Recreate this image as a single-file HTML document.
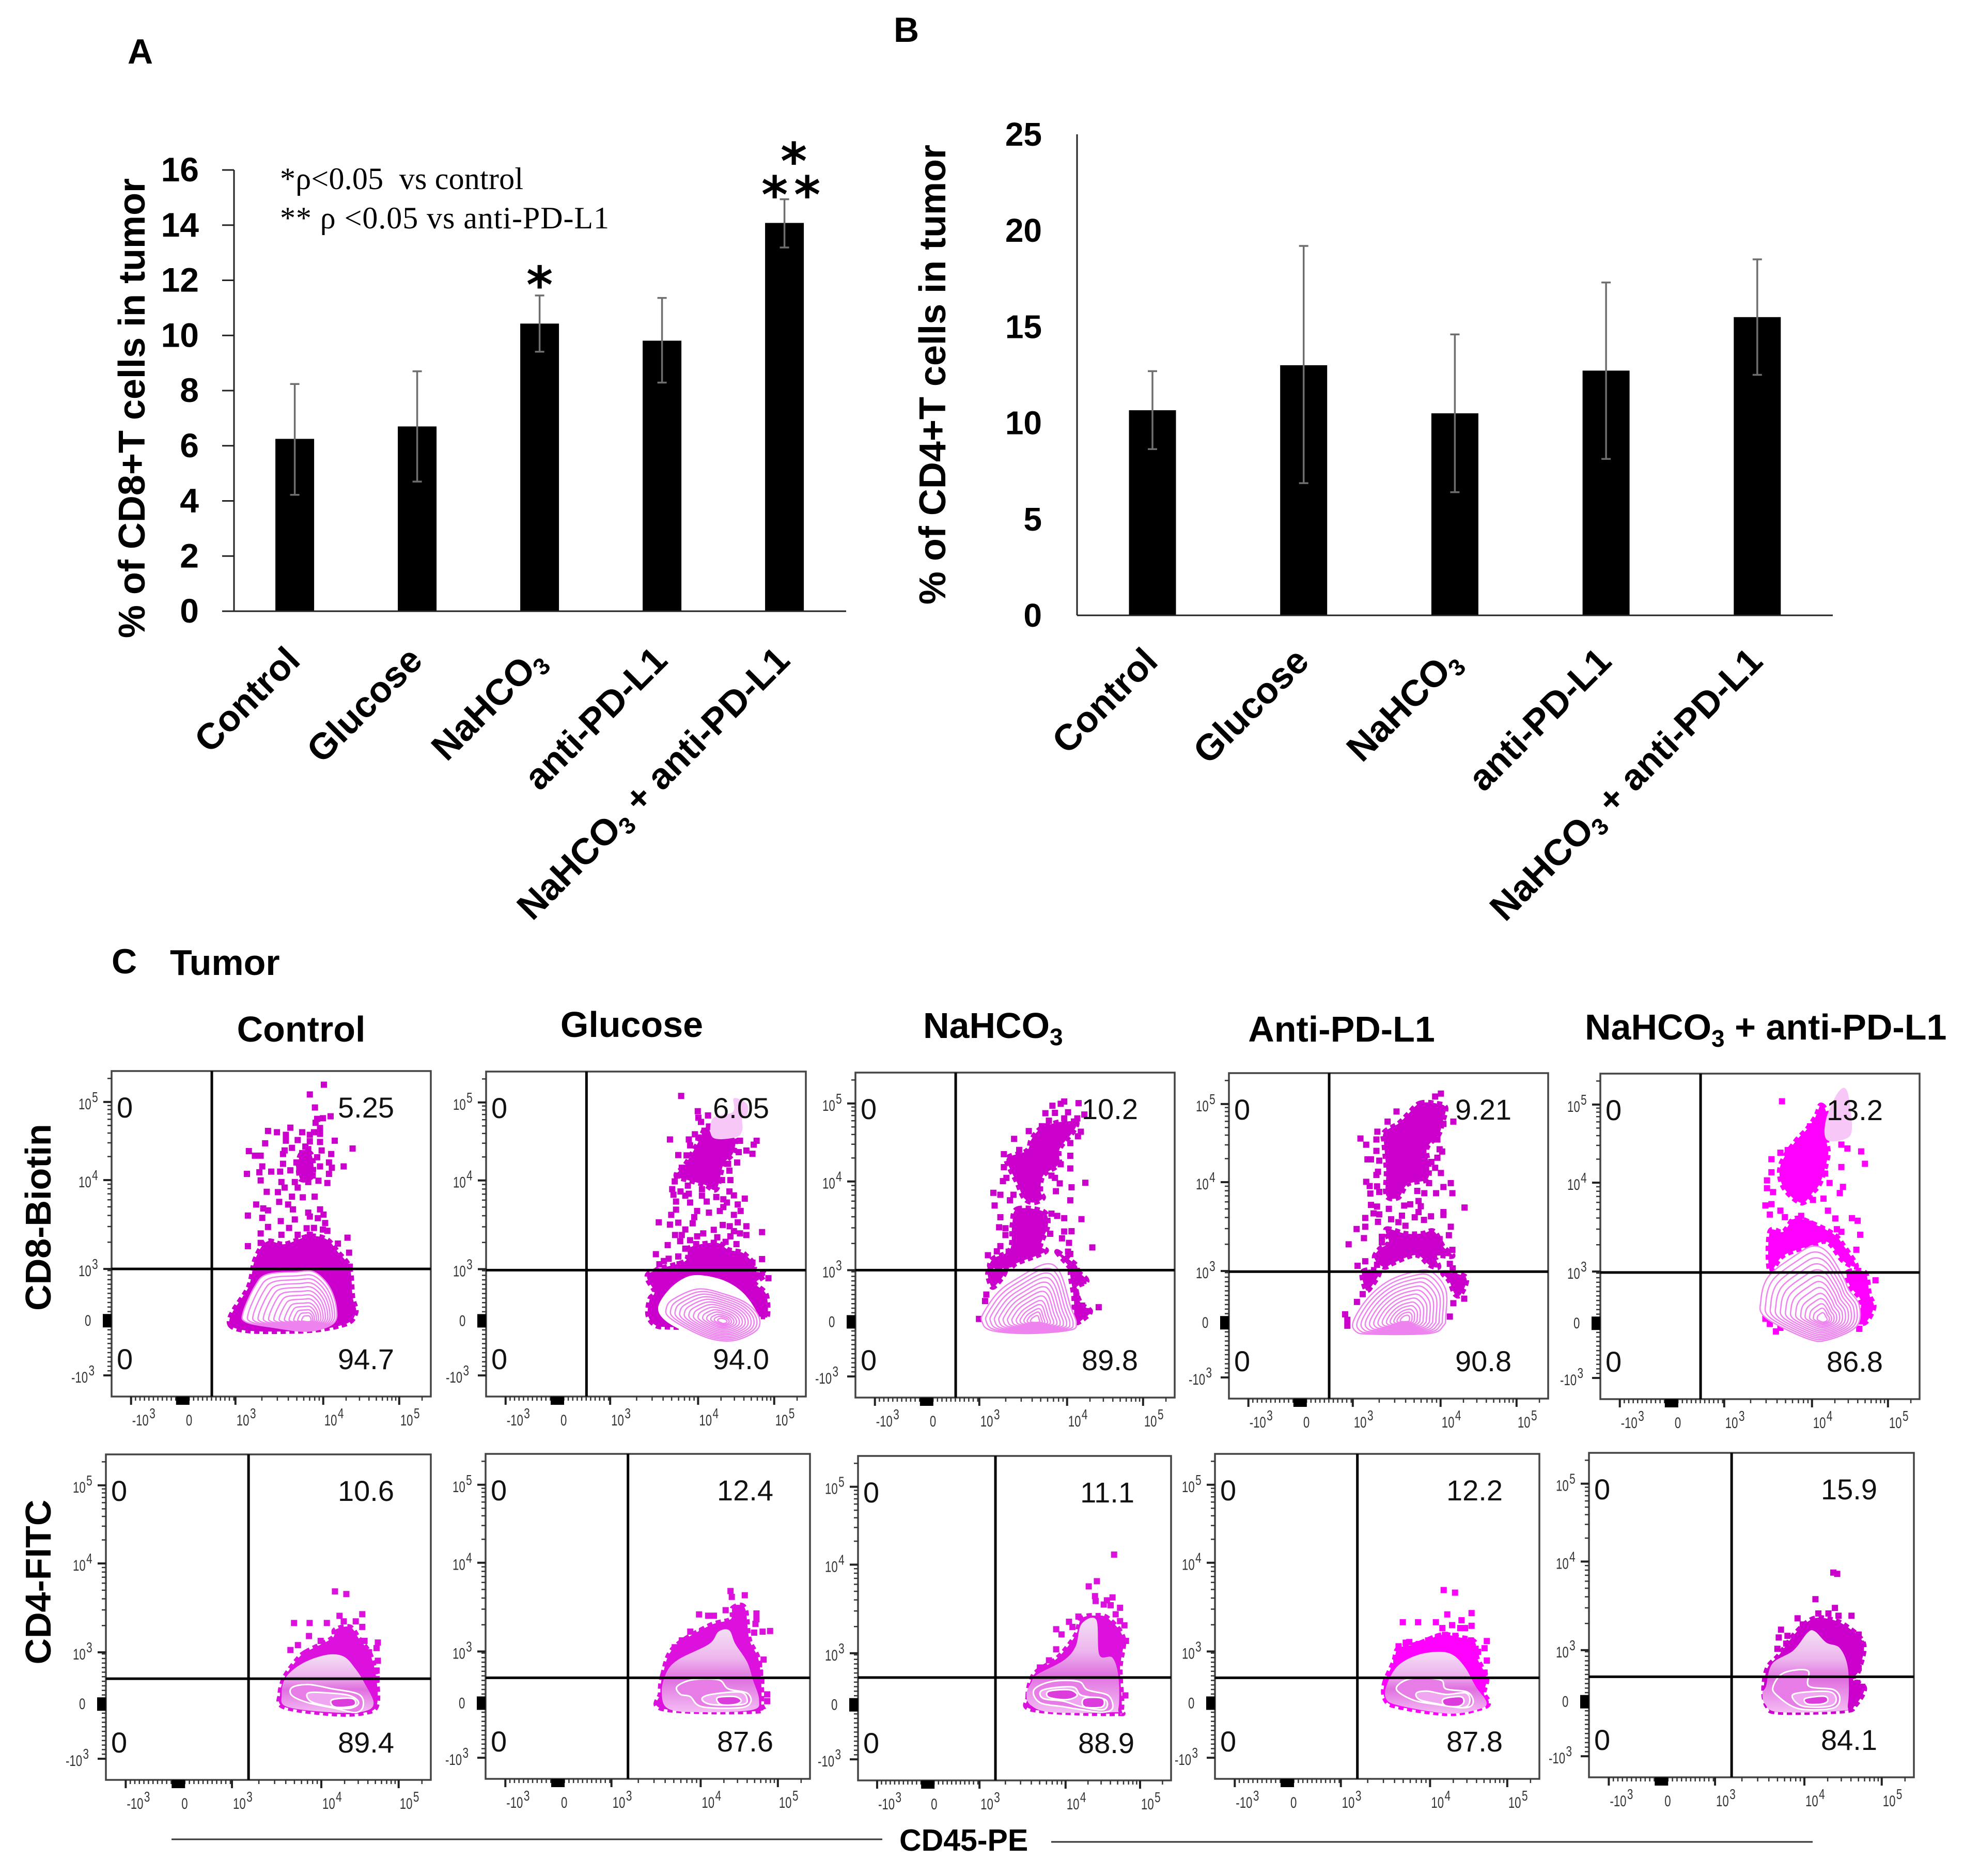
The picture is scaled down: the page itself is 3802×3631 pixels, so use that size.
<!DOCTYPE html>
<html lang="en">
<head>
<meta charset="utf-8">
<title>CD8+ and CD4+ T cells in tumor</title>
<style>
html,body{margin:0;padding:0;background:#fff;}
svg{display:block;}
text{font-family:"Liberation Sans",sans-serif;fill:#000;white-space:pre;}
.bold{font-weight:bold;}
</style>
</head>
<body>
<svg id="figure" xmlns="http://www.w3.org/2000/svg" width="3802" height="3631" viewBox="0 0 3802 3631">
  <defs>
    <linearGradient id="bodyFill" x1="0" y1="0" x2="0" y2="1">
      <stop offset="0" stop-color="#f3dff3"/>
      <stop offset="0.35" stop-color="#eeb6ee"/>
      <stop offset="0.6" stop-color="#e070e0"/>
      <stop offset="1" stop-color="#f4bcf4"/>
    </linearGradient>
  </defs>
  <rect x="0" y="0" width="3802" height="3631" fill="#fff"/>

  <text class="bold" x="247" y="123" font-size="68">A</text>
  <text class="bold" x="1730" y="81" font-size="68">B</text>
  <text class="bold" x="216" y="1884" font-size="68">C</text>
  <text class="bold" x="329" y="1887" font-size="70">Tumor</text>

  <text x="542" y="366" font-size="60" textLength="471" style="font-family:'Liberation Serif',serif">*ρ&lt;0.05  vs control</text>
  <text x="542" y="442" font-size="60" textLength="637" style="font-family:'Liberation Serif',serif">** ρ &lt;0.05 vs anti-PD-L1</text>

  <text class="bold" font-size="72" text-anchor="middle" transform="translate(280,790) rotate(-90)">% of CD8+T cells in tumor</text>
  <text class="bold" font-size="72" text-anchor="middle" transform="translate(1830,725) rotate(-90)">% of CD4+T cells in tumor</text>

  <g>
    <text class="bold" font-size="70" text-anchor="middle" x="583" y="2016">Control</text>
    <text class="bold" font-size="70" text-anchor="middle" x="1223" y="2007">Glucose</text>
    <text class="bold" font-size="70" x="1787" y="2009">NaHCO<tspan font-size="46" dy="14">3</tspan></text>
    <text class="bold" font-size="70" text-anchor="middle" x="2597" y="2016">Anti-PD-L1</text>
    <text class="bold" font-size="70" x="3068" y="2012">NaHCO<tspan font-size="46" dy="14">3</tspan><tspan dy="-14"> + anti-PD-L1</tspan></text>
  </g>

  <text class="bold" font-size="70" text-anchor="middle" transform="translate(98,2356) rotate(-90)">CD8-Biotin</text>
  <text class="bold" font-size="70" text-anchor="middle" transform="translate(98,3062) rotate(-90)">CD4-FITC</text>

  <line x1="332" y1="3560" x2="1708" y2="3560" stroke="#333" stroke-width="3"/>
  <text class="bold" font-size="59" x="1741" y="3582">CD45-PE</text>
  <line x1="2035" y1="3565" x2="3509" y2="3565" stroke="#333" stroke-width="3"/>

  <g id="charts"></g>
  <g id="flows"></g>
</svg>

<script>
/* ---------- bar chart data ---------- */
const categories = ["Control", "Glucose", "NaHCO|3", "anti-PD-L1", "NaHCO|3 + anti-PD-L1"];
const cd8Values = [6.25, 6.7, 10.43, 9.81, 14.08];
const cd8ErrLow = [4.22, 4.7, 9.41, 8.29, 13.19];
const cd8ErrHigh = [8.24, 8.7, 11.45, 11.36, 14.94];
const cd8Ticks = [0, 2, 4, 6, 8, 10, 12, 14, 16];
const cd4Values = [10.66, 13.0, 10.5, 12.72, 15.5];
const cd4ErrLow = [8.64, 6.87, 6.4, 8.13, 12.5];
const cd4ErrHigh = [12.69, 19.2, 14.6, 17.3, 18.5];
const cd4Ticks = [0, 5, 10, 15, 20, 25];

/* ---------- flow plot axes, display channels 0-1000 ---------- */
const flowTickChannelsX = [61, 223, 388, 663, 901];
const flowTickChannelsY = [65, 233, 392, 665, 905];
const contourLevels = [1, 0.92, 0.84, 0.76, 0.68, 0.6, 0.52, 0.44, 0.36, 0.29, 0.22, 0.16, 0.1];

/* ---------- flow plot values: [CD45 channel, marker channel] ---------- */
const cd8ControlDots = [[665,958],[621,928],[637,888],[686,861],[662,855],[644,853],[639,841],[653,825],[634,812],[653,807],[560,826],[490,816],[518,812],[546,804],[597,812],[621,804],[546,786],[583,788],[621,784],[653,782],[699,786],[755,762],[481,778],[565,764],[607,768],[542,756],[616,760],[658,756],[430,754],[597,748],[537,745],[449,740],[467,740],[688,745],[644,735],[597,735],[616,719],[472,707],[579,719],[537,715],[681,719],[727,707],[463,689],[424,684],[500,691],[528,691],[560,695],[588,699],[611,695],[653,707],[690,703],[681,684],[630,679],[467,664],[532,659],[574,659],[616,659],[648,663],[676,656],[542,642],[583,642],[486,629],[521,628],[565,614],[599,612],[636,614],[525,598],[553,590],[453,590],[616,565],[475,578],[490,572],[568,575],[653,575],[427,556],[472,549],[621,553],[664,559],[646,548],[574,544],[530,539],[669,533],[490,521],[556,518],[634,518],[611,517],[662,513],[532,497],[467,501],[583,497],[621,497],[676,509],[739,488],[709,470],[744,442],[746,399],[427,462],[467,472]];
const cd8ControlDense = [[[374,217],[430,339],[449,420],[486,476],[542,468],[616,492],[672,484],[709,444],[746,395],[755,306],[765,258],[727,221],[579,201]],[[590,740],[625,745],[630,680],[590,670]]];
const cd8ControlContour = [[412,258],[449,339],[486,375],[579,383],[634,383],[681,339],[704,274],[695,225],[616,201],[504,213],[421,229]];
const cd8ControlPeak = [616, 233];

const cd8GlucoseDots = [[610,925],[662,878],[664,858],[672,845],[694,865],[697,831],[575,791],[634,791],[653,807],[664,797],[683,818],[794,787],[846,787],[837,775],[790,752],[814,757],[833,747],[601,743],[627,742],[638,773],[785,720],[757,716],[612,704],[597,680],[761,695],[590,662],[764,666],[738,666],[582,638],[586,621],[608,631],[631,649],[634,624],[623,618],[675,638],[761,631],[775,619],[809,609],[720,614],[742,607],[594,600],[638,597],[675,618],[690,600],[753,597],[787,591],[594,575],[660,571],[697,566],[731,571],[742,583],[796,571],[775,559],[579,559],[651,552],[540,536],[575,529],[601,535],[646,533],[787,536],[740,528],[762,524],[814,524],[712,513],[623,514],[612,497],[591,497],[679,502],[660,493],[775,509],[794,502],[814,497],[863,506],[764,493],[638,481],[607,478],[568,466],[723,490],[712,473],[749,476],[783,469],[657,469],[531,438],[623,455],[601,431],[571,424],[556,417],[542,407],[605,407],[863,423],[833,412],[883,364]];
const cd8GlucoseDense = [[[690,831],[712,800],[775,797],[772,749],[742,714],[720,638],[683,652],[631,666],[594,680],[623,714],[660,776]],[[538,386],[623,417],[638,459],[720,473],[757,452],[809,438],[820,386]],[[527,386],[853,383],[842,348],[876,314],[879,245],[853,245],[675,217],[564,214],[527,221],[506,252],[512,300],[527,321]]];
const cd8GlucoseFaint = [[709,797],[779,797],[801,818],[801,856],[816,866],[816,900],[775,918],[772,876],[709,856]];
const cd8GlucoseVoid = [[538,273],[571,328],[623,366],[675,373],[749,355],[809,314],[853,245],[846,204],[779,173],[709,173],[638,193],[564,231]];
const cd8GlucoseContour = [[564,273],[586,300],[664,331],[749,314],[816,286],[853,245],[846,204],[779,173],[709,176],[638,204],[571,245]];
const cd8GlucosePeak = [742, 231];

const cd8BicarbDots = [[654,911],[617,898],[699,906],[643,904],[595,875],[625,876],[666,878],[695,859],[717,871],[654,859],[606,852],[584,835],[543,820],[497,796],[697,804],[673,783],[706,818],[513,762],[465,749],[673,744],[465,709],[673,705],[643,718],[720,661],[462,666],[473,676],[677,647],[640,659],[614,683],[625,676],[432,630],[454,624],[495,624],[484,607],[628,635],[673,607],[436,591],[454,555],[708,549],[450,524],[470,521],[470,500],[614,566],[632,559],[654,552],[677,512],[654,511],[610,504],[647,490],[669,476],[454,466],[443,450],[415,438],[480,449],[742,462],[673,442],[666,449],[762,278],[387,242],[406,297],[410,317],[714,359],[692,314],[710,283],[729,266]];
const cd8BicarbDense = [[[692,849],[684,821],[640,766],[636,718],[588,683],[580,635],[588,614],[558,600],[528,614],[506,662],[484,704],[476,738],[536,759],[551,794],[580,828],[625,845],[654,849]],[[506,580],[588,573],[603,531],[580,469],[595,449],[506,414],[484,400],[424,400],[432,428],[484,455],[491,531]],[[632,449],[692,407],[684,390],[654,421]],[[417,390],[469,390],[439,345],[424,345]],[[673,386],[696,386],[725,359],[692,338],[706,290],[736,266],[714,242],[688,235],[684,311]]];
const cd8BicarbContour = [[402,262],[447,324],[506,366],[595,411],[640,386],[673,283],[692,228],[669,207],[536,197],[424,207],[396,235]];
const cd8BicarbPeak = [565, 235];

const cd8AntiDots = [[664,937],[646,928],[525,882],[497,851],[703,851],[672,844],[465,820],[412,799],[462,796],[430,780],[462,761],[653,796],[660,766],[668,759],[653,740],[634,727],[646,709],[664,693],[434,735],[445,735],[471,731],[467,697],[462,687],[430,666],[441,653],[464,652],[471,635],[443,630],[695,662],[672,650],[700,631],[649,631],[627,662],[590,638],[612,631],[501,638],[516,624],[738,587],[672,573],[672,564],[445,595],[464,590],[501,583],[453,569],[471,566],[549,593],[568,597],[594,607],[601,591],[594,573],[582,557],[611,549],[633,560],[542,562],[508,551],[467,543],[427,555],[427,528],[400,521],[423,493],[375,474],[553,531],[531,542],[695,528],[689,502],[660,490],[479,497],[479,480],[700,457],[427,422],[403,408],[464,411],[692,414],[701,400],[419,321],[401,297],[703,293],[737,307],[692,252],[364,259],[371,242],[371,224]];
const cd8AntiDense = [[[597,907],[649,907],[679,894],[668,845],[657,811],[620,769],[627,714],[620,673],[560,659],[531,618],[493,624],[493,700],[486,783],[486,818],[531,845],[560,873]],[[493,521],[553,507],[605,507],[642,514],[672,466],[701,438],[649,438],[657,404],[627,411],[597,438],[568,438],[516,417],[486,404],[456,431],[471,459],[501,480]],[[419,390],[471,390],[441,338],[427,338]],[[672,386],[742,373],[727,321],[708,321],[690,362]]];
const cd8AntiContour = [[390,238],[434,307],[501,362],[582,390],[634,390],[679,335],[679,252],[672,224],[627,200],[441,198],[397,207]];
const cd8AntiPeak = [553, 241];

const cd8CombDots = [[569,915],[657,838],[685,863],[587,765],[564,757],[536,737],[755,782],[774,770],[817,761],[829,723],[755,713],[760,652],[750,633],[536,697],[522,672],[522,648],[541,636],[517,595],[536,599],[531,567],[564,579],[578,559],[718,664],[694,693],[704,693],[666,612],[699,616],[713,579],[736,555],[788,556],[806,548],[814,505],[601,543],[629,563],[657,539],[694,522],[741,522],[755,514],[545,490],[583,498],[802,459],[862,365],[517,247],[531,231],[550,208],[564,219],[811,216],[816,239]];
const cd8CombDense = [[[690,903],[708,879],[708,798],[713,749],[690,668],[666,636],[629,603],[573,652],[564,717],[610,790],[648,830],[676,871]],[[610,555],[666,539],[732,506],[760,474],[802,409],[760,425],[713,482],[666,474],[573,441],[531,393],[531,514],[573,514]],[[774,389],[829,389],[843,320],[857,284],[834,239],[811,239],[816,303],[783,346]]];
const cd8CombFaint = [[708,798],[764,798],[788,830],[774,944],[746,944],[708,863]];
const cd8CombContour = [[503,304],[527,377],[610,441],[666,470],[713,450],[760,377],[778,336],[811,288],[802,223],[713,182],[648,186],[517,251]];
const cd8CombPeak = [699, 243];

const cd4ControlDots = [[705,579],[740,571],[579,482],[627,482],[680,482],[719,504],[789,509],[769,487],[732,487],[789,470],[723,453],[625,442],[661,427],[591,414],[568,399],[837,422],[833,405],[837,366],[833,336],[833,310],[810,392],[796,427]];
const cd4ControlRim = [[614,392],[696,435],[705,461],[751,470],[778,435],[814,384],[833,306],[833,228],[796,207],[705,203],[550,224],[536,263],[550,315],[586,366]];
const cd4ControlBody = [[554,315],[605,358],[678,384],[732,379],[769,340],[796,297],[824,237],[796,211],[705,207],[559,224],[541,263]];
const cd4ControlBands = [[[573,284],[623,293],[696,280],[778,263],[792,228],[769,207],[705,220],[623,237],[573,259]],[[623,267],[687,267],[751,259],[778,237],[751,220],[696,224],[631,241]],[[696,246],[759,250],[763,228],[705,224]]];

const cd4GlucoseDots = [[755,578],[759,560],[799,565],[777,526],[658,506],[686,502],[704,502],[740,519],[835,509],[835,491],[832,477],[854,453],[877,455],[828,450],[631,453],[605,426],[583,405],[667,453],[857,367],[843,353],[850,302],[868,260],[868,239],[846,326]];
const cd4GlucoseRim = [[546,319],[579,402],[689,471],[755,491],[762,526],[799,526],[813,429],[843,360],[850,236],[828,208],[550,215],[539,264]];
const cd4GlucoseBody = [[557,326],[594,367],[689,415],[718,453],[751,457],[770,415],[806,360],[824,305],[843,243],[821,212],[667,205],[565,215],[543,264]];
const cd4GlucoseBands = [[[590,284],[638,305],[718,305],[748,277],[806,264],[817,236],[784,219],[667,222],[631,253],[601,260]],[[667,246],[696,260],[784,267],[806,246],[791,229],[696,229]],[[715,250],[769,253],[788,240],[769,229],[725,229]]];

const cd4BicarbDots = [[818,696],[763,614],[737,598],[757,568],[759,553],[813,564],[795,555],[785,542],[807,540],[837,532],[823,512],[704,505],[674,489],[633,466],[650,450],[851,478],[837,491],[856,430],[837,415],[685,473],[633,404],[610,370],[581,348],[854,262]];
const cd4BicarbRim = [[543,257],[562,326],[638,378],[695,447],[714,499],[761,508],[799,499],[847,439],[837,344],[842,223],[818,206],[562,218]];
const cd4BicarbBody = [[553,301],[572,326],[657,370],[695,413],[714,482],[761,495],[771,387],[813,378],[832,318],[832,223],[809,210],[619,210],[553,231],[538,266]];
const cd4BicarbBands = [[[562,279],[619,305],[704,305],[733,279],[799,262],[813,223],[780,210],[714,218],[657,227],[581,240]],[[591,279],[685,288],[714,262],[790,249],[785,218],[714,227],[657,244],[591,253]],[[610,275],[676,279],[700,262],[667,249],[610,256]],[[723,253],[780,253],[780,227],[723,227]]];

const cd4AntiDots = [[705,581],[740,573],[716,506],[791,510],[791,471],[579,482],[626,482],[681,482],[701,464],[731,473],[760,488],[756,464],[771,464],[741,440],[687,436],[709,443],[599,421],[588,419],[566,408],[628,415],[657,426],[789,426],[838,424],[831,402],[811,391],[838,364],[831,327],[559,357],[829,302]];
const cd4AntiRim = [[522,291],[551,360],[566,402],[624,415],[698,443],[749,436],[800,422],[807,374],[837,312],[829,264],[844,236],[822,219],[720,201],[566,222],[526,243]];
const cd4AntiBody = [[533,298],[566,350],[624,381],[690,391],[734,381],[771,343],[804,284],[837,236],[815,215],[720,201],[566,226],[526,250]];
const cd4AntiBands = [[[559,277],[602,308],[694,305],[712,277],[778,267],[796,236],[771,219],[683,229],[610,243]],[[621,264],[654,270],[712,260],[774,264],[785,236],[763,219],[697,229],[632,243]],[[705,246],[757,253],[767,236],[749,223],[709,226]]];

const cd4CombDots = [[752,631],[764,627],[697,549],[757,522],[706,505],[737,505],[768,498],[808,498],[642,490],[658,471],[591,455],[584,431],[611,436],[633,431],[607,412],[580,396],[757,453],[794,443],[830,440],[794,413],[837,412],[830,377],[830,337],[826,291],[841,279],[812,229]];
const cd4CombRim = [[538,267],[549,336],[585,377],[637,446],[688,488],[739,488],[790,467],[845,412],[830,329],[812,302],[848,274],[819,222],[783,205],[585,201],[549,219]];
const cd4CombBody = [[545,281],[564,350],[629,391],[673,446],[695,450],[731,415],[772,398],[797,336],[797,226],[775,205],[585,201],[542,226],[534,260]];
const cd4CombBands = [[[567,281],[600,322],[673,329],[677,281],[753,270],[772,239],[746,212],[644,212],[578,253]],[[626,246],[644,260],[739,264],[761,239],[739,219],[659,219]],[[666,243],[724,250],[735,236],[717,226],[673,226]]];

/* ---------- percentages printed in each quadrant ---------- */
const cd8Percents = [["5.25","94.7"],["6.05","94.0"],["10.2","89.8"],["9.21","90.8"],["13.2","86.8"]];
const cd4Percents = [["10.6","89.4"],["12.4","87.6"],["11.1","88.9"],["12.2","87.8"],["15.9","84.1"]];

const SVG_NS = "http://www.w3.org/2000/svg";

function mk(tag, attrs, parent) {
  const el = document.createElementNS(SVG_NS, tag);
  for (const k in attrs) el.setAttribute(k, attrs[k]);
  parent.appendChild(el);
  return el;
}

/* ---------- bar charts ---------- */
function drawBarChart(cfg) {
  const g = mk("g", {}, document.getElementById("charts"));
  
  
  const yScale = function (v) { return cfg.baseY - v * (cfg.baseY - cfg.topY) / cfg.maxValue; };
  const xScale = function (i) { return cfg.firstX + i * cfg.stepX; };

  cfg.values.forEach(function (v, i) {
    const bar = mk("rect", { x: xScale(i) - cfg.barWidth / 2, y: yScale(v), width: cfg.barWidth, height: cfg.baseY - yScale(v), fill: "#000" }, g);
    
    
  });

  cfg.values.forEach(function (v, i) {
    const cx = xScale(i);
    const stem = mk("line", { x1: cx, x2: cx, y1: yScale(cfg.errHigh[i]), y2: yScale(cfg.errLow[i]), stroke: "#6e6e6e", "stroke-width": 3.5 }, g);
    
    
    [cfg.errHigh[i], cfg.errLow[i]].forEach(function (e) {
      const cap = mk("line", { x1: cx - 9, x2: cx + 9, y1: yScale(e), y2: yScale(e), stroke: "#6e6e6e", "stroke-width": 3.5 }, g);
      
      
    });
  });

  const yAxis = mk("line", { x1: cfg.axisX, x2: cfg.axisX, y1: yScale(cfg.maxValue), y2: cfg.baseY, stroke: "#222", "stroke-width": 3 }, g);
  
  
  const xAxis = mk("line", { x1: cfg.axisX - cfg.tickLen, x2: cfg.axisEnd, y1: cfg.baseY, y2: cfg.baseY, stroke: "#222", "stroke-width": 3 }, g);
  
  

  cfg.ticks.forEach(function (t) {
    if (cfg.tickLen > 0) {
      const tick = mk("line", { x1: cfg.axisX - cfg.tickLen, x2: cfg.axisX, y1: yScale(t), y2: yScale(t), stroke: "#222", "stroke-width": 3 }, g);
      
      
    }
    const label = mk("text", { x: cfg.labelRight, y: yScale(t) + 22, "text-anchor": "end", "font-size": cfg.tickFont, "font-weight": "bold" }, g);
    label.textContent = String(t);
    
    
  });

  categories.forEach(function (c, i) {
    const px = xScale(i) + 14;
    const label = mk("text", { "text-anchor": "end", "font-size": 71, "font-weight": "bold", transform: "translate(" + px + "," + cfg.catY + ") rotate(-45)" }, g);
    
    
    const parts = c.split("|");
    if (parts.length === 1) {
      label.textContent = c;
    } else {
      label.appendChild(document.createTextNode(parts[0]));
      const sub = mk("tspan", { "font-size": 46, dy: 14 }, label);
      sub.textContent = parts[1].charAt(0);
      const rest = parts[1].slice(1);
      const tail = mk("tspan", { dy: -14 }, label);
      tail.textContent = rest || "\u200b";
    }
  });

  (cfg.stars || []).forEach(function (s) {
    const star = mk("text", { x: xScale(s.index) + s.dx, y: yScale(cfg.errHigh[s.index]) + s.dy + 47, "text-anchor": "middle", "font-size": 98, "font-weight": "bold", style: "font-family:'DejaVu Sans',sans-serif" }, g);
    star.textContent = "*";
    
    
  });
}

drawBarChart({
  name: "cd8-bar-chart", values: cd8Values, errLow: cd8ErrLow, errHigh: cd8ErrHigh, ticks: cd8Ticks,
  maxValue: 16, baseY: 1183, topY: 329, firstX: 570.6, stepX: 237, barWidth: 75,
  axisX: 453, axisEnd: 1638, tickLen: 23, labelRight: 385, tickFont: 66, catY: 1282,
  stars: [{ index: 2, dx: 0, dy: -33 }, { index: 4, dx: 18, dy: -86 }, { index: 4, dx: -19, dy: -21 }, { index: 4, dx: 44, dy: -21 }]
});
drawBarChart({
  name: "cd4-bar-chart", values: cd4Values, errLow: cd4ErrLow, errHigh: cd4ErrHigh, ticks: cd4Ticks,
  maxValue: 25, baseY: 1191, topY: 260, firstX: 2231, stepX: 292.7, barWidth: 91,
  axisX: 2085, axisEnd: 3548, tickLen: 0, labelRight: 2017, tickFont: 64, catY: 1284, stars: []
});

/* ---------- flow plots ---------- */
const flowPanels = [
  { name: "cd8-control", box: [216, 2073, 618, 630], gate: [314, 392], color: "#cc00cc", dots: cd8ControlDots, dense: cd8ControlDense, contour: cd8ControlContour, peak: cd8ControlPeak, pct: cd8Percents[0] },
  { name: "cd8-glucose", box: [941, 2074, 619, 629], gate: [314, 389], color: "#cc00cc", dots: cd8GlucoseDots, dense: cd8GlucoseDense, faint: cd8GlucoseFaint, voidShape: cd8GlucoseVoid, contour: cd8GlucoseContour, peak: cd8GlucosePeak, pct: cd8Percents[1] },
  { name: "cd8-nahco3", box: [1656, 2076, 618, 629], gate: [314, 392], color: "#cc00cc", dots: cd8BicarbDots, dense: cd8BicarbDense, contour: cd8BicarbContour, peak: cd8BicarbPeak, pct: cd8Percents[2] },
  { name: "cd8-anti-pd-l1", box: [2379, 2077, 618, 630], gate: [314, 390], color: "#cc00cc", dots: cd8AntiDots, dense: cd8AntiDense, contour: cd8AntiContour, peak: cd8AntiPeak, pct: cd8Percents[3] },
  { name: "cd8-combination", box: [3098, 2078, 618, 630], gate: [314, 389], color: "#ff00ff", dots: cd8CombDots, dense: cd8CombDense, faint: cd8CombFaint, contour: cd8CombContour, peak: cd8CombPeak, pct: cd8Percents[4] },
  { name: "cd4-control", box: [205, 2815, 629, 630], gate: [439, 311], color: "#dd11dd", dots: cd4ControlDots, dense: [cd4ControlRim], body: cd4ControlBody, bands: cd4ControlBands, pct: cd4Percents[0] },
  { name: "cd4-glucose", box: [940, 2814, 628, 629], gate: [439, 311], color: "#dd11dd", dots: cd4GlucoseDots, dense: [cd4GlucoseRim], body: cd4GlucoseBody, bands: cd4GlucoseBands, pct: cd4Percents[1] },
  { name: "cd4-nahco3", box: [1661, 2818, 606, 628], gate: [439, 317], color: "#dd11dd", dots: cd4BicarbDots, dense: [cd4BicarbRim], body: cd4BicarbBody, bands: cd4BicarbBands, pct: cd4Percents[2] },
  { name: "cd4-anti-pd-l1", box: [2352, 2814, 628, 629], gate: [439, 311], color: "#ff00ff", dots: cd4AntiDots, dense: [cd4AntiRim], body: cd4AntiBody, bands: cd4AntiBands, pct: cd4Percents[3] },
  { name: "cd4-combination", box: [3076, 2812, 629, 628], gate: [439, 310], color: "#cc00cc", dots: cd4CombDots, dense: [cd4CombRim], body: cd4CombBody, bands: cd4CombBands, pct: cd4Percents[4] }
];

/* closed Catmull-Rom curve that passes through every outline vertex */
function smoothPath(points) {
  const n = points.length;
  let d = "M" + points[0][0] + " " + points[0][1];
  for (let i = 0; i < n; i++) {
    const p0 = points[(i - 1 + n) % n];
    const p1 = points[i];
    const p2 = points[(i + 1) % n];
    const p3 = points[(i + 2) % n];
    d += "C" + (p1[0] + (p2[0] - p0[0]) / 6) + " " + (p1[1] + (p2[1] - p0[1]) / 6) + " " +
         (p2[0] - (p3[0] - p1[0]) / 6) + " " + (p2[1] - (p3[1] - p1[1]) / 6) + " " + p2[0] + " " + p2[1];
  }
  return d + "Z";
}

function minorChannels(major) {
  const out = [];
  for (let c = major[0] + 14; c < major[2] - 4; c += 14) out.push(c);
  [[major[2], major[3]], [major[3], major[4]]].forEach(function (d) {
    for (let k = 2; k < 10; k++) out.push(d[0] + Math.log10(k) * (d[1] - d[0]));
  });
  out.push(major[4] + Math.log10(2) * (major[4] - major[3]));
  return out;
}

function smallLabel(parent, x, y, base, sup) {
  const t = mk("text", { transform: "translate(" + x + "," + y + ") scale(0.74,1)", "font-size": 30, style: "fill:#333" }, parent);
  
  
  t.appendChild(document.createTextNode(base));
  if (sup) {
    const s = mk("tspan", { "font-size": 28, dy: -14, dx: 2 }, t);
    s.textContent = sup;
  }
}

function drawFlowPanel(p) {
  const g = mk("g", {}, document.getElementById("flows"));
  
  

  const bx = p.box[0], by = p.box[1], bw = p.box[2], bh = p.box[3];
  const xAt = function (c) { return bx + c / 1000 * bw; };
  const yAt = function (c) { return by + bh - c / 1000 * bh; };
  const project = function (pts) { return pts.map(function (q) { return [xAt(q[0]), yAt(q[1])]; }); };

  p.dense.forEach(function (shape) {
    const blob = mk("path", { d: smoothPath(project(shape)), fill: p.color, stroke: p.color, "stroke-width": 10, "stroke-dasharray": "10 7" }, g);
    
    
  });

  p.dots.forEach(function (d) {
    const dot = mk("rect", { x: xAt(d[0]) - 6, y: yAt(d[1]) - 6, width: 12, height: 12, fill: p.color }, g);
    
    
  });

  if (p.faint) {
    const faint = mk("path", { d: smoothPath(project(p.faint)), fill: "#f7c8f7" }, g);
    
    
  }

  if (p.contour) {
    const cleared = mk("path", { d: smoothPath(project(p.voidShape || p.contour)), fill: "#fff" }, g);
    
    
    const peak = [xAt(p.peak[0]), yAt(p.peak[1])];
    const outline = project(p.contour);
    contourLevels.forEach(function (lvl) {
      const ring = outline.map(function (q) { return [peak[0] + (q[0] - peak[0]) * lvl, peak[1] + (q[1] - peak[1]) * lvl]; });
      const line = mk("path", { d: smoothPath(ring), fill: "none", stroke: "#ee82ee", "stroke-width": 2.5 }, g);
      
      
    });
  }

  if (p.body) {
    const body = mk("path", { d: smoothPath(project(p.body)), fill: "url(#bodyFill)" }, g);
    
    
    const bandFills = ["#e77ce7", "#f0a6f0", "#dd3cdd", "#dd3cdd"];
    p.bands.forEach(function (shape, i) {
      const band = mk("path", { d: smoothPath(project(shape)), fill: bandFills[i], stroke: "#fff", "stroke-width": 3 }, g);
      
      
    });
  }

  const frame = mk("rect", { x: bx, y: by, width: bw, height: bh, fill: "none", stroke: "#444", "stroke-width": 3.5 }, g);
  
  

  const vGate = mk("line", { x1: xAt(p.gate[0]), x2: xAt(p.gate[0]), y1: by, y2: by + bh, stroke: "#000", "stroke-width": 5 }, g);
  
  
  const hGate = mk("line", { x1: bx, x2: bx + bw, y1: yAt(p.gate[1]), y2: yAt(p.gate[1]), stroke: "#000", "stroke-width": 5 }, g);
  
  

  /* axes */
  flowTickChannelsY.forEach(function (c) {
    const tick = mk("line", { x1: bx - 16, x2: bx, y1: yAt(c), y2: yAt(c), stroke: "#222", "stroke-width": 4 }, g);
    
    
  });
  minorChannels(flowTickChannelsY).forEach(function (c) {
    const tick = mk("line", { x1: bx - 8, x2: bx, y1: yAt(c), y2: yAt(c), stroke: "#333", "stroke-width": 2.5 }, g);
    
    
  });
  flowTickChannelsX.forEach(function (c) {
    const tick = mk("line", { x1: xAt(c), x2: xAt(c), y1: by + bh, y2: by + bh + 16, stroke: "#222", "stroke-width": 4 }, g);
    
    
  });
  minorChannels(flowTickChannelsX).forEach(function (c) {
    const tick = mk("line", { x1: xAt(c), x2: xAt(c), y1: by + bh, y2: by + bh + 8, stroke: "#333", "stroke-width": 2.5 }, g);
    
    
  });
  const clumpY = mk("rect", { x: bx - 17, y: yAt(flowTickChannelsY[1]) - 13, width: 17, height: 26, fill: "#000" }, g);
  
  
  const clumpX = mk("rect", { x: xAt(flowTickChannelsX[1]) - 13, y: by + bh, width: 26, height: 16, fill: "#000" }, g);
  
  

  /* tick labels */
  const tickText = [["-10", "3"], ["0", ""], ["10", "3"], ["10", "4"], ["10", "5"]];
  tickText.forEach(function (t, i) {
    const xx = xAt(flowTickChannelsX[i]);
    smallLabel(g, t[1] ? xx + 2 : xx + 6, by + bh + 56, t[0], t[1]);
    const yy = yAt(flowTickChannelsY[i]);
    const lx = i === 0 ? bx - 78 : (t[1] ? bx - 64 : bx - 52);
    smallLabel(g, lx, yy + (t[1] ? 14 : 10), t[0], t[1]);
  });

  /* quadrant values */
  const corners = [
    { s: "0", x: bx + 10, y: by + 90, a: "start" },
    { s: p.pct[0], x: bx + bw - 71, y: by + 90, a: "end" },
    { s: "0", x: bx + 10, y: by + bh - 53, a: "start" },
    { s: p.pct[1], x: bx + bw - 71, y: by + bh - 53, a: "end" }
  ];
  corners.forEach(function (c) {
    const t = mk("text", { x: c.x, y: c.y, "text-anchor": c.a, "font-size": 56, style: "fill:#111" }, g);
    t.textContent = c.s;
    
    
  });
}

flowPanels.forEach(drawFlowPanel);
</script>
</body>
</html>
